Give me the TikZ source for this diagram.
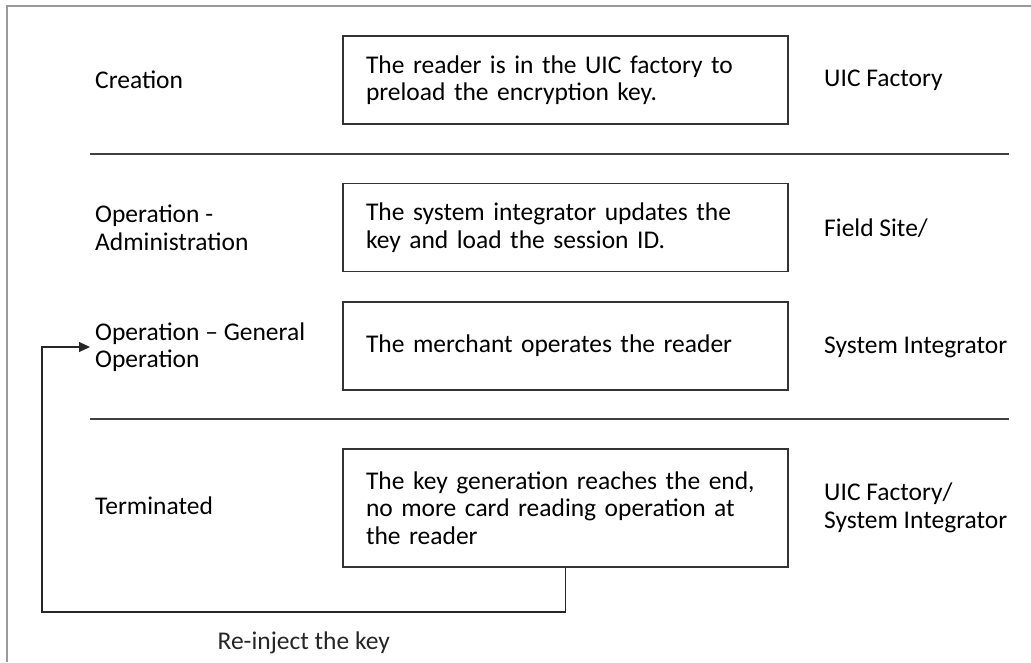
\documentclass[tikz,border=0pt]{standalone}
\usepackage{fontspec}
\setmainfont{Carlito}
\usepackage{tikz}
\usetikzlibrary{positioning,arrows.meta}
\tikzset{
    stage text/.style={anchor=west, align=left, inner sep=0pt, font=\fontsize{25.5}{27.5}\selectfont},
    step box/.style={draw=black!80, line width=1.1pt, minimum width=445pt, minimum height=88pt, text width=399pt, inner xsep=23pt, align=left, font=\fontsize{25.5}{27.5}\selectfont},
    stage line/.style={black!75, line width=1.2pt},
    frame line/.style={black!40, line width=1.5pt},
    loop arrow/.style={-{Triangle[length=11pt,width=10pt]}, black!85, line width=1.1pt}
}

\begin{document}
\begin{tikzpicture}[x=1pt, y=-1pt]
    \useasboundingbox (0,0) rectangle (1031,662);

    % outer frame (only top and left edges visible)
    \draw[frame line] (1031,6) -- (7,6) -- (7,662);

    % Creation
    \node[stage text] (creation) at (95,80) {Creation};
    \node[step box] (preload) at (565.5,80) {The reader is in the UIC factory to\\preload the encryption key.};
    \node[stage text] (factory) at (824,80) {UIC Factory};

    \draw[stage line] (90,154) -- (1009,154);

    % Operation
    \node[stage text] (opadmin) at (95,228) {Operation -\\Administration};
    \node[step box] (update) at (565.5,227.5) {The system integrator updates the\\key and load the session ID.};
    \node[stage text] (fieldsite) at (824,228) {Field Site/};

    \node[stage text] (opgen) at (95,347) {Operation – General\\Operation};
    \node[step box] (operate) at (565.5,346) {The merchant operates the reader};
    \node[stage text] (integrator) at (824,347) {System Integrator};

    \draw[stage line] (90,419) -- (1009,419);

    % Terminated
    \node[stage text] (terminated) at (95,506) {Terminated};
    \node[step box, minimum height=118pt] (keyend) at (565.5,508) {The key generation reaches the end,\\no more card reading operation at\\the reader};
    \node[stage text] (factoryint) at (824,508) {UIC Factory/\\System Integrator};

    % loop back to operation
    \coordinate (loopcorner) at (42,612);
    \draw[loop arrow, shorten >=5pt] (keyend.south) |- node[pos=0.75, below, yshift=-16pt, font=\fontsize{25.5}{27.5}\selectfont] (reinject) {Re-inject the key} (loopcorner) |- (opgen.west);
\end{tikzpicture}
\end{document}
